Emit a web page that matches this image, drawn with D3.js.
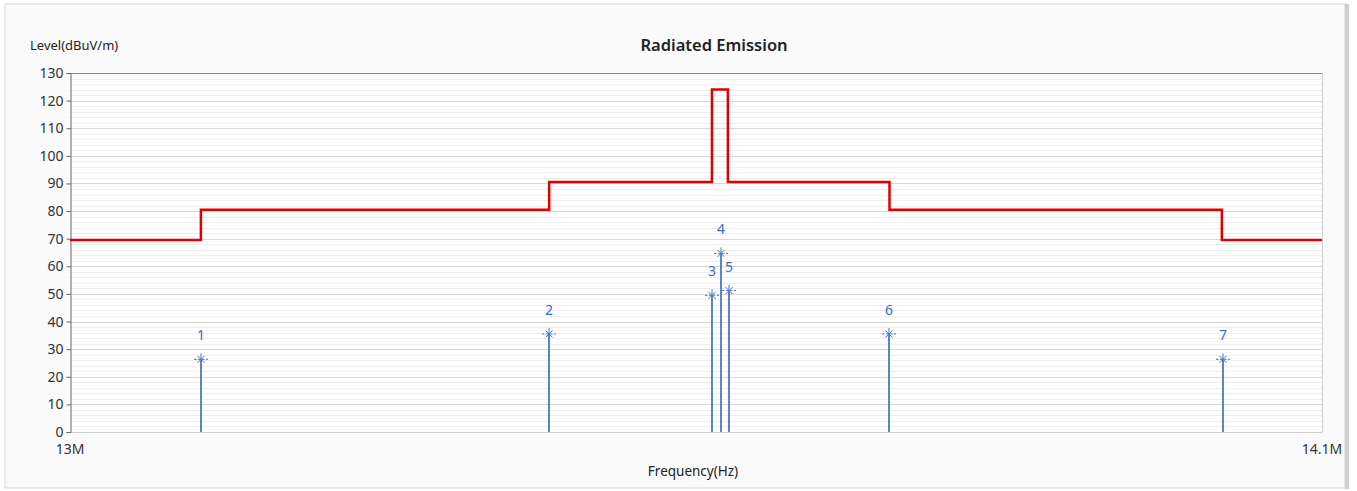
<!DOCTYPE html>
<html>
<head>
<meta charset="utf-8">
<script src="https://cdn.jsdelivr.net/npm/d3@7"></script>
<style>
    body { margin: 0; background: #fff; }
    text { font-family: "Noto Sans", "Open Sans", sans-serif; }
</style>
</head>
<body>
<svg id="chart" width="1357" height="491"></svg>
<script>
'use strict';

// limit line (step function), frequency in Hz
var limitFreq = [13.0e6, 13.115e6, 13.115e6, 13.421e6, 13.421e6, 13.564e6, 13.564e6, 13.578e6, 13.578e6, 13.720e6, 13.720e6, 14.012e6, 14.012e6, 14.1e6];
var limitLevel = [69.5, 69.5, 80.5, 80.5, 90.5, 90.5, 124, 124, 90.5, 90.5, 80.5, 80.5, 69.5, 69.5];

// peak markers
var peakNo = [1, 2, 3, 4, 5, 6, 7];
var peakFreq = [13.115e6, 13.421e6, 13.5644e6, 13.5718e6, 13.5789e6, 13.7197e6, 14.0126e6];
var peakLevel = [26.3, 35.5, 49.5, 64.7, 51.2, 35.5, 26.3];

var yTicks = [0, 10, 20, 30, 40, 50, 60, 70, 80, 90, 100, 110, 120, 130];
var xTickVals = [13.0e6, 14.1e6];
var xTickText = ["13M", "14.1M"];

(function () {
    var svg = d3.select("#chart");
    var plotL = 70, plotR = 1322, plotT = 73, plotB = 432;

    var x = d3.scaleLinear().domain([13.0e6, 14.1e6]).range([plotL, plotR]);
    var y = d3.scaleLinear().domain([0, 130]).range([plotB, plotT]);

    // outer frame
    svg.append("rect").attr("x", 5).attr("y", 4).attr("width", 1340).attr("height", 484)
        .attr("fill", "#fafafa").attr("stroke", "#d6d6d6");
    svg.append("rect").attr("x", 1345).attr("y", 4).attr("width", 4).attr("height", 485).attr("fill", "#cfcfcf");
    svg.append("rect").attr("x", plotL).attr("y", plotT).attr("width", plotR - plotL).attr("height", plotB - plotT)
        .attr("fill", "#fff");

    // grid lines
    var minor = d3.range(0, 131, 2);
    svg.append("g").selectAll("line").data(minor).enter().append("line")
        .attr("x1", plotL).attr("x2", plotR)
        .attr("y1", function(d) { return Math.round(y(d)) + 0.5; })
        .attr("y2", function(d) { return Math.round(y(d)) + 0.5; })
        .attr("stroke", function(d) { return d % 10 === 0 ? "#d8d8d8" : "#eeeeee"; })
        .attr("stroke-width", 1);

    // plot border
    svg.append("line").attr("x1", plotL).attr("x2", plotR).attr("y1", plotT + 0.5).attr("y2", plotT + 0.5).attr("stroke", "#8a8a8a");
    svg.append("line").attr("x1", plotR + 0.5).attr("x2", plotR + 0.5).attr("y1", plotT).attr("y2", plotB).attr("stroke", "#cfcfcf");
    svg.append("line").attr("x1", plotL).attr("x2", plotR).attr("y1", plotB + 0.5).attr("y2", plotB + 0.5).attr("stroke", "#cfcfcf");

    // y axis
    var yAxis = d3.axisLeft(y).tickValues(yTicks).tickSize(4).tickPadding(3);
    var gy = svg.append("g").attr("transform", "translate(" + (plotL + 0.5) + ",0)").call(yAxis);
    gy.select(".domain").attr("stroke", "#666");
    gy.selectAll(".tick line").attr("stroke", "#666");
    gy.selectAll("text").attr("font-size", 14).attr("fill", "#333")
        .attr("font-family", "'Noto Sans', sans-serif");

    // x tick labels
    svg.append("g").selectAll("text").data(xTickVals).enter().append("text")
        .attr("x", function(d) { return x(d); })
        .attr("y", 454)
        .attr("text-anchor", "middle")
        .attr("font-size", 14).attr("fill", "#333")
        .text(function(d, i) { return xTickText[i]; });

    // limit line
    var limitData = limitFreq.map(function(f, i) { return [f, limitLevel[i]]; });
    svg.append("path").datum(limitData)
        .attr("fill", "none").attr("stroke", "#e00000").attr("stroke-width", 2.5)
        .attr("d", d3.line().x(function(d) { return x(d[0]); }).y(function(d) { return y(d[1]); }));

    // peaks
    var peaks = peakNo.map(function(n, i) { return {no: n, f: peakFreq[i], v: peakLevel[i]}; });
    var pg = svg.append("g").selectAll("g").data(peaks).enter().append("g")
        .attr("transform", function(d) { return "translate(" + Math.round(x(d.f)) + ",0)"; });

    pg.append("line").attr("x1", 0).attr("x2", 0)
        .attr("y1", function(d) { return y(d.v); }).attr("y2", plotB)
        .attr("stroke", "#3566b8").attr("stroke-width", 1.6);

    var star = pg.append("g").attr("transform", function(d) { return "translate(0," + y(d.v) + ")"; })
        .attr("stroke", "#4a78c8").attr("stroke-width", 1).attr("fill", "none");
    star.append("line").attr("x1", -7).attr("x2", 7).attr("y1", 0).attr("y2", 0).attr("stroke-dasharray", "2.5,1.5");
    star.append("line").attr("x1", -3.5).attr("x2", 3.5).attr("y1", -3.5).attr("y2", 3.5);
    star.append("line").attr("x1", -3.5).attr("x2", 3.5).attr("y1", 3.5).attr("y2", -3.5);
    star.append("line").attr("x1", 0).attr("x2", 0).attr("y1", -6).attr("y2", 0);

    pg.append("text")
        .attr("x", 0)
        .attr("y", function(d) { return y(d.v) - 19; })
        .attr("text-anchor", "middle")
        .attr("font-size", 14).attr("fill", "#3b6cc4")
        .text(function(d) { return d.no; });

    // titles
    svg.append("text").attr("x", 30).attr("y", 50).attr("font-size", 13).attr("fill", "#222")
        .text("Level(dBuV/m)");
    svg.append("text").attr("x", 714).attr("y", 51).attr("text-anchor", "middle")
        .attr("font-size", 16.5).attr("font-weight", 600).attr("fill", "#222")
        .text("Radiated Emission");
    svg.append("text").attr("x", 693).attr("y", 476).attr("text-anchor", "middle")
        .attr("font-size", 13.5).attr("fill", "#222")
        .text("Frequency(Hz)");
})();
</script>
</body>
</html>
